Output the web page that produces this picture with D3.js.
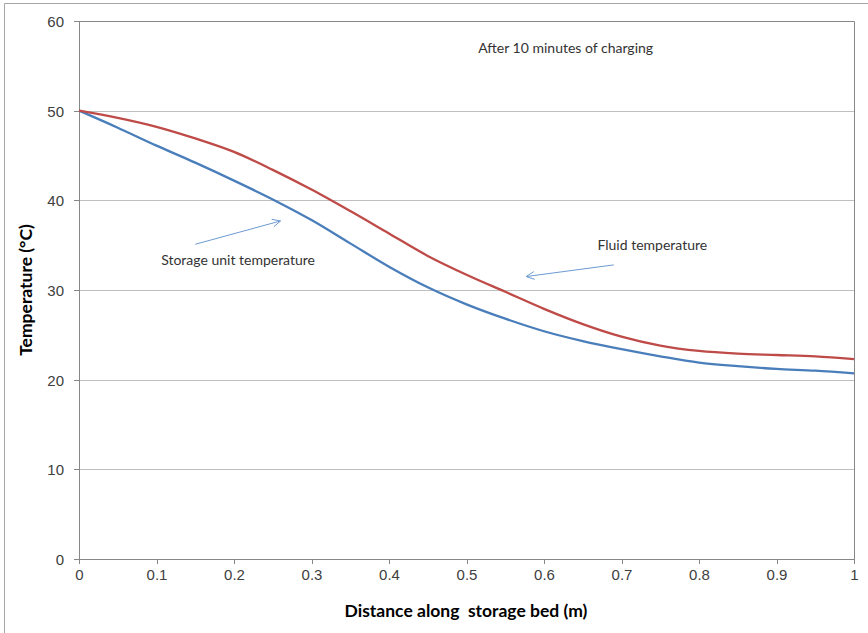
<!DOCTYPE html>
<html>
<head>
<meta charset="utf-8">
<title>Temperature along storage bed</title>
<style>
  body { margin: 0; background: #fff; }
  svg { font-family: Lato, "Open Sans", sans-serif; display: block; }
  .grid line { stroke: #bfbfbf; stroke-width: 1; shape-rendering: crispEdges; }
  .grid path { stroke: none; }
  .axis path, .axis line { stroke: #878787; shape-rendering: crispEdges; }
  .axis text { fill: #404040; font-size: 15px; }
  .note { fill: #333; font-size: 14px; }
</style>
</head>
<body>
<svg width="868" height="633"></svg>
<script src="https://d3js.org/d3.v7.min.js"></script>
<script>
// distance along storage bed (m)
var distance = [0, 0.05, 0.1, 0.15, 0.2, 0.25, 0.3, 0.35, 0.4, 0.45, 0.5, 0.55, 0.6, 0.65, 0.7, 0.75, 0.8, 0.85, 0.9, 0.95, 1];
// temperatures (°C)
var fluidTemp   = [50, 49.2, 48.2, 46.9, 45.4, 43.4, 41.2, 38.8, 36.3, 33.8, 31.7, 29.8, 27.9, 26.2, 24.8, 23.8, 23.2, 22.9, 22.75, 22.6, 22.3];
var storageTemp = [50, 48.1, 46.1, 44.2, 42.2, 40.1, 37.8, 35.2, 32.6, 30.3, 28.4, 26.8, 25.4, 24.3, 23.4, 22.6, 21.9, 21.5, 21.2, 21.0, 20.7];
var xTicks = [0, 0.1, 0.2, 0.3, 0.4, 0.5, 0.6, 0.7, 0.8, 0.9, 1];
var yTicks = [0, 10, 20, 30, 40, 50, 60];

var svg = d3.select("svg"),
    margin = {top: 21, right: 14, bottom: 74, left: 79},
    width = +svg.attr("width") - margin.left - margin.right,
    height = +svg.attr("height") - margin.top - margin.bottom;

// outer chart frame
svg.append("path")
  .attr("d", "M4.5,633V3.5H868")
  .attr("fill", "none")
  .attr("stroke", "#a6a6a6");

var g = svg.append("g").attr("transform", "translate(" + margin.left + "," + margin.top + ")");

var x = d3.scaleLinear().domain([0, 1]).range([0, width]);
var y = d3.scaleLinear().domain([0, 60]).range([height, 0]);

g.append("g")
  .attr("class", "grid")
  .call(d3.axisLeft(y).tickValues(yTicks).tickSize(-width).tickFormat(""));

// plot border on top and right
g.append("path")
  .attr("d", "M0," + 0.5 + "H" + (width + 0.5) + "V" + height)
  .attr("fill", "none")
  .attr("stroke", "#878787");

g.append("g")
  .attr("class", "axis")
  .attr("transform", "translate(0," + height + ")")
  .call(d3.axisBottom(x).tickValues(xTicks).tickSize(5).tickSizeOuter(0).tickPadding(5).tickFormat(d3.format("")))
  .call(function(a) { a.select(".domain").attr("d", "M0,0.5H" + width); });

g.append("g")
  .attr("class", "axis")
  .call(d3.axisLeft(y).tickValues(yTicks).tickSize(5).tickSizeOuter(0).tickPadding(10))
  .call(function(a) { a.selectAll("text").attr("dy", "0.36em"); });

var line = function(vals) {
  return d3.line()
    .x(function(d, i) { return x(distance[i]); })
    .y(function(d) { return y(d); })
    .curve(d3.curveCatmullRom.alpha(0.5))(vals);
};

g.append("path").attr("d", line(storageTemp))
  .attr("fill", "none").attr("stroke", "#4a7ebb").attr("stroke-width", 2.3);
g.append("path").attr("d", line(fluidTemp))
  .attr("fill", "none").attr("stroke", "#be4b48").attr("stroke-width", 2.3);

// annotations
g.append("text").attr("class", "note")
  .attr("x", x(0.515)).attr("y", y(56.4))
  .text("After 10 minutes of charging");

g.append("text").attr("class", "note")
  .attr("x", x(0.106)).attr("y", y(32.8))
  .text("Storage unit temperature");

g.append("text").attr("class", "note")
  .attr("x", x(0.669)).attr("y", y(34.45))
  .text("Fluid temperature");

function arrow(x1, y1, x2, y2) {
  var px1 = x(x1), py1 = y(y1), px2 = x(x2), py2 = y(y2);
  var ang = Math.atan2(py2 - py1, px2 - px1), L = 9, w = 0.45;
  g.append("line")
    .attr("x1", px1).attr("y1", py1).attr("x2", px2).attr("y2", py2)
    .attr("stroke", "#6d9ad2").attr("stroke-width", 1);
  g.append("path")
    .attr("d", "M" + (px2 - L * Math.cos(ang - w)) + "," + (py2 - L * Math.sin(ang - w)) +
               "L" + px2 + "," + py2 +
               "L" + (px2 - L * Math.cos(ang + w)) + "," + (py2 - L * Math.sin(ang + w)))
    .attr("fill", "none").attr("stroke", "#6d9ad2").attr("stroke-width", 1);
}
arrow(0.15, 35.1, 0.26, 37.7);
arrow(0.69, 32.8, 0.577, 31.5);

svg.append("text")
  .attr("x", 466).attr("y", 617)
  .attr("text-anchor", "middle")
  .attr("font-weight", "bold").attr("font-size", "17.5px").attr("fill", "#000")
  .text("Distance along  storage bed (m)")
  .style("white-space", "pre");

svg.append("text")
  .attr("transform", "translate(32,290) rotate(-90)")
  .attr("text-anchor", "middle")
  .attr("font-weight", "bold").attr("font-size", "17.5px").attr("fill", "#000")
  .text("Temperature (°C)");
</script>
</body>
</html>
